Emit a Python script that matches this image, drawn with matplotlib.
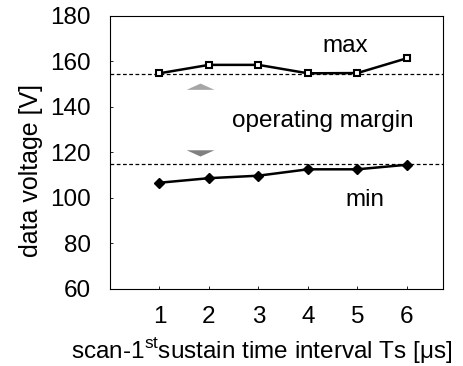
import matplotlib
matplotlib.use('Agg')
import matplotlib.pyplot as plt

plt.rcParams['font.family'] = ['Liberation Sans', 'DejaVu Sans']
plt.rcParams['mathtext.fontset'] = 'custom'
plt.rcParams['mathtext.rm'] = 'Liberation Sans'

# data
ts = [1, 2, 3, 4, 5, 6]
v_max = [154.8, 158.5, 158.5, 154.8, 154.9, 161.4]
v_min = [106.7, 108.7, 109.8, 112.6, 112.6, 114.6]
max_level = 154.3
min_level = 115.0

fig = plt.figure(figsize=(4.63, 3.66), dpi=100)
ax = fig.add_axes([0.2376, 0.2104, 0.719, 0.746])

ax.axhline(max_level, color='black', ls=(0, (3, 2)), lw=0.9)
ax.axhline(min_level, color='black', ls=(0, (3, 2)), lw=0.9)

ax.plot(ts, v_max, color='black', lw=1.8, marker='s', ms=5,
        mfc='white', mec='black', mew=1.5)
ax.plot(ts, v_min, color='black', lw=1.8, marker='D', ms=5,
        mfc='black', mec='black')

# faded double arrow for the operating margin
arrow_x = 1.83
ax.annotate('', xy=(arrow_x, 151.5), xytext=(arrow_x, 148.5),
            arrowprops=dict(arrowstyle='-|>,head_length=0.45,head_width=1.0',
                            color='0.65', lw=0))
ax.annotate('', xy=(arrow_x, 117.0), xytext=(arrow_x, 120.0),
            arrowprops=dict(arrowstyle='-|>,head_length=0.45,head_width=1.0',
                            color='0.5', lw=0))

ax.text(4.75, 167, 'max', fontsize=17.5, ha='center', va='center')
ax.text(4.3, 133.7, 'operating margin', fontsize=17.5, ha='center', va='center')
ax.text(5.15, 99, 'min', fontsize=17.5, ha='center', va='center')

ax.set_xlim(0, 6.73)
ax.set_ylim(60, 180)
ax.set_xticks(ts)
ax.set_yticks(range(60, 181, 20))
ax.tick_params(direction='in', length=2, width=0.6, labelsize=17.5)
ax.tick_params(axis='y', pad=14)
ax.tick_params(axis='x', pad=12)
for s in ax.spines.values():
    s.set_linewidth(0.8)

ax.set_ylabel('data voltage [V]', fontsize=18)
ax.yaxis.set_label_coords(-0.2, 0.435)
ax.set_xlabel(r'scan-1$^{\mathrm{st}}$sustain time interval Ts [μs]',
              fontsize=17.5)
ax.xaxis.set_label_coords(0.456, -0.17)

fig.savefig('out.png', dpi=100)
